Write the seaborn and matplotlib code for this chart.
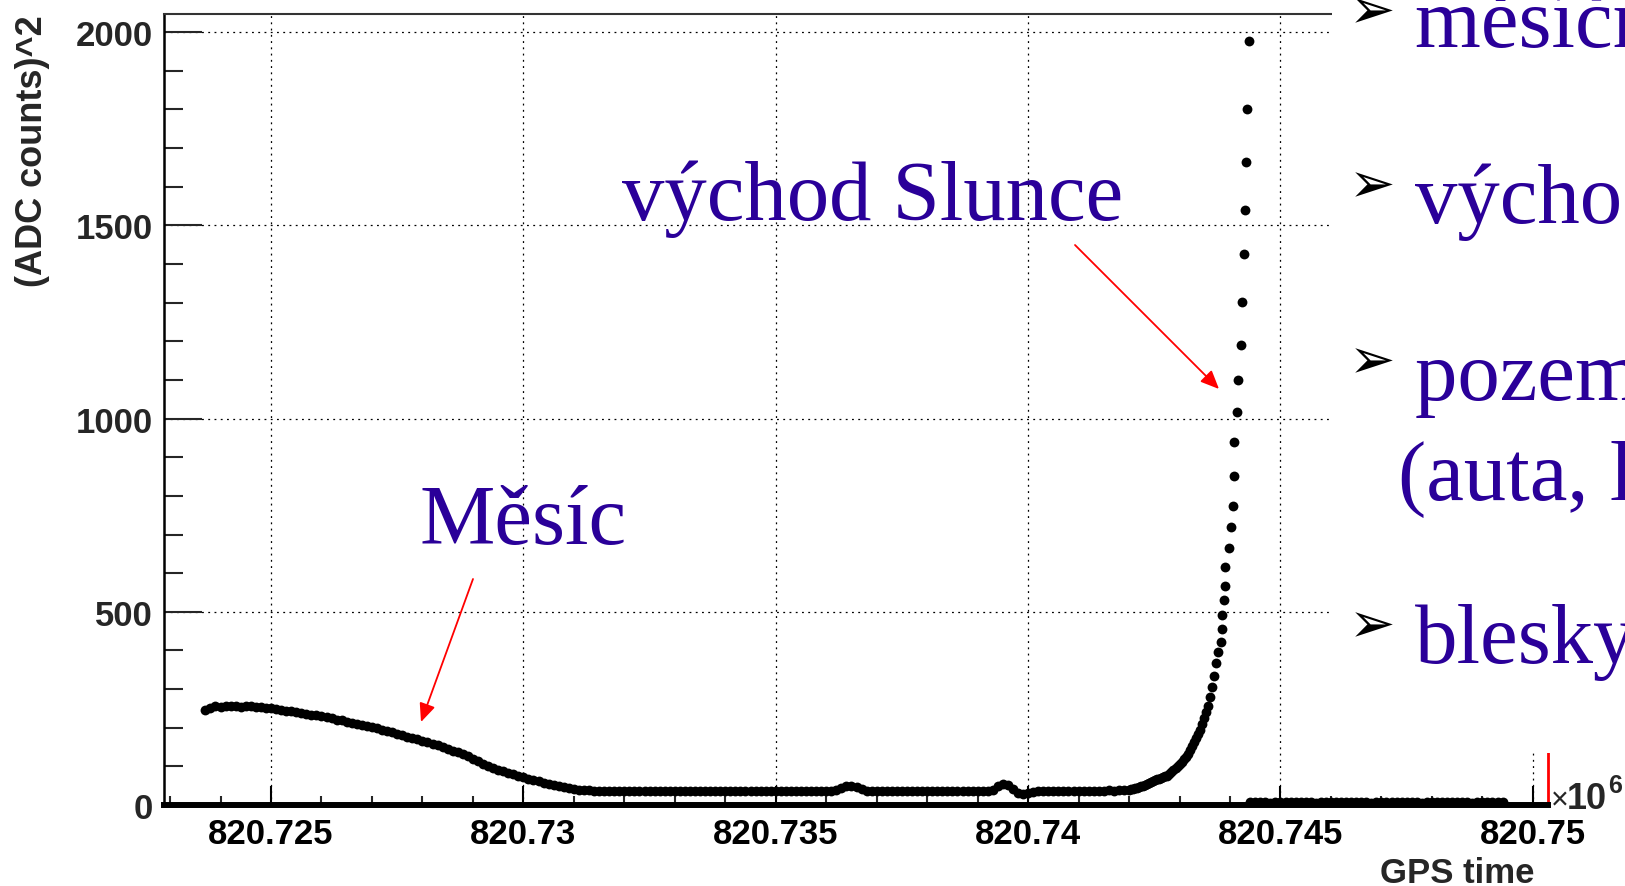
import numpy as np
import pandas as pd
import matplotlib
matplotlib.use("Agg")
import matplotlib.pyplot as plt
from matplotlib.patches import Rectangle
from matplotlib.ticker import MultipleLocator, FixedLocator
import seaborn as sns

# ---------------- data: GPS time [x1e6 s] vs. pixel signal [(ADC counts)^2] ----------------
# slow part of the night (Moon setting), sampled every 100 s
slow_t0 = 820.7237
slow_dt = 0.0001
slow_adc = [
    246, 252, 255, 254, 257, 255, 256, 254, 257, 255,
    254, 253, 251, 250, 248, 246, 244, 242, 240, 238,
    236, 234, 232, 230, 227, 225, 221, 219, 216, 213,
    210, 207, 204, 201, 198, 195, 192, 189, 185, 181,
    177, 173, 170, 166, 162, 158, 154, 150, 146, 141,
    137, 132, 126, 120, 114, 107, 101, 96, 91, 87,
    83, 79, 75, 72, 68, 64, 61, 58, 55, 52,
    49, 46, 44, 42, 40, 39, 38, 37, 37, 36,
    36, 37, 35, 36, 37, 36, 35, 37, 36, 36,
    37, 35, 36, 36, 37, 35, 36, 37, 36, 35,
    36, 37, 36, 35, 36, 37, 36, 36, 35, 37,
    36, 36, 37, 35, 36, 36, 37, 36, 35, 36,
    37, 36, 36, 35, 37, 38, 44, 48, 49, 47,
    41, 37, 36, 36, 35, 37, 36, 36, 37, 35,
    36, 36, 37, 36, 35, 36, 37, 36, 36, 35,
    37, 36, 36, 35, 37, 36, 40, 48, 55, 52,
    42, 32, 29, 30, 33, 36, 37, 36, 36, 37,
    36, 37, 36, 37, 36, 37, 37, 36, 37, 38,
    37, 38, 39,
]

# dawn: finer sampling while the sky brightens
rise_t0 = 820.74200
rise_dt = 0.00004
rise_adc = [
    40, 41, 42, 43, 45, 46, 48, 50, 52, 55,
    57, 60, 62, 64, 66, 68, 70, 72, 74, 76,
    80, 85, 90, 95, 100, 106, 112, 118, 125, 133,
    142, 153, 163, 173, 184, 195, 210, 225, 240, 256,
    280, 305, 335, 368, 396,
]

# last readings before the shutter closes
peak_time = [820.74383, 820.74384, 820.74385, 820.74389, 820.74390,
             820.74391, 820.74398, 820.74401, 820.74405, 820.74407,
             820.74408, 820.74414, 820.74415, 820.74421, 820.74423,
             820.74428, 820.74430, 820.74432, 820.74433, 820.74438]
peak_adc = [422, 455, 492, 530, 567, 617, 665, 719, 774, 851,
            940, 1016, 1101, 1190, 1301, 1426, 1540, 1665, 1801, 1978]

# closed shutter, daytime
tail_t0 = 820.7444
tail_dt = 0.0001
tail_adc = [
    8, 7, 9, 8, 6, 8, 9, 7, 8, 8,
    7, 9, 8, 6, 8, 7, 9, 8, 8, 7,
    8, 9, 7, 8, 6, 8, 9, 8, 7, 8,
    9, 7, 8, 8, 6, 9, 8, 7, 8, 9,
    7, 8, 8, 9, 6, 8, 7, 9, 8, 7, 8,
]

x_ticks = [820.725, 820.73, 820.735, 820.74, 820.745, 820.75]
x_tick_labels = ["820.725", "820.73", "820.735", "820.74", "820.745", "820.75"]
y_ticks = [0, 500, 1000, 1500, 2000]
y_tick_labels = ["0", "500", "1000", "1500", "2000"]

x_title = "GPS time"
y_title = "(ADC counts)^2"
moon_label = "Měsíc"
sun_label = "východ Slunce"
bullet_lines = ["měsíční světlo", "východ Slunce", "pozemní zdroje", "blesky"]
bullet_cont = "(auta, letadla)"

# ---------------- assemble ----------------
def sampled(t0, dt, values):
    return t0 + dt * np.arange(len(values))

df = pd.DataFrame({
    "t": np.concatenate([sampled(slow_t0, slow_dt, slow_adc),
                         sampled(rise_t0, rise_dt, rise_adc),
                         np.array(peak_time),
                         sampled(tail_t0, tail_dt, tail_adc)]),
    "adc": np.concatenate([slow_adc, rise_adc, peak_adc, tail_adc]).astype(float),
})

sns.set_style("white")
plt.rcParams["font.family"] = ["Liberation Sans", "DejaVu Sans"]

W, H = 1625, 887
fig = plt.figure(figsize=(W / 100, H / 100), dpi=100, facecolor="white")


def fx(px):
    return px / W


def fy(py):
    return 1 - py / H


ax = fig.add_axes([fx(164), fy(806), fx(1548) - fx(164), fy(15) - fy(806)])
ax.set_facecolor("white")

sns.scatterplot(data=df, x="t", y="adc", ax=ax, color="black", marker="o",
                s=50, linewidth=0, legend=False, zorder=3)

ax.set_xlim(820.72288, 820.7503)
ax.set_ylim(0, 2047)

ax.xaxis.set_major_locator(FixedLocator(x_ticks))
ax.xaxis.set_minor_locator(MultipleLocator(0.001))
ax.yaxis.set_major_locator(FixedLocator(y_ticks))
ax.yaxis.set_minor_locator(MultipleLocator(100))
ax.set_xticklabels(x_tick_labels, fontsize=25, fontweight="bold")
ax.set_yticklabels(y_tick_labels, fontsize=25, fontweight="bold")

ax.tick_params(axis="x", which="major", direction="in", length=14, width=1.5,
               pad=9, bottom=True, top=False, colors="black")
ax.tick_params(axis="x", which="minor", direction="in", length=6.5, width=1.5,
               bottom=True, top=False)
ax.tick_params(axis="y", which="major", direction="in", length=27, width=1.5,
               pad=8, left=True, right=False)
ax.tick_params(axis="y", which="minor", direction="in", length=14, width=1.5,
               left=True, right=False)

ax.grid(which="major", color="black", linestyle=(0, (1.5, 3.5)), linewidth=0.9)
ax.set_axisbelow(True)

ax.spines["left"].set_linewidth(1.8)
ax.spines["left"].set_color("black")
ax.spines["bottom"].set_linewidth(4.3)
ax.spines["bottom"].set_color("black")
ax.spines["top"].set_linewidth(1.5)
ax.spines["top"].set_color("#333333")
ax.spines["right"].set_linewidth(2.0)
ax.spines["right"].set_color("red")

ax.set_xlabel(x_title, fontsize=25, fontweight="bold", ha="right", va="top")
ax.xaxis.set_label_coords((1535 - 164) / (1548 - 164), (806 - 857) / (806 - 15))
ax.set_ylabel(y_title, fontsize=26, fontweight="bold", ha="right", va="center")
ax.yaxis.set_label_coords((33 - 164) / (1548 - 164), 1.0)

# exponent of the time axis
fig.text(fx(1551), fy(809), "×", fontsize=22, va="baseline", ha="left")
fig.text(fx(1567), fy(809), "10", fontsize=26, fontweight="bold", va="baseline", ha="left")
fig.text(fx(1608), fy(793), "6", fontsize=18, fontweight="bold", va="baseline", ha="left")

# annotations inside the plot
txt_color = "#2a0099"
serif = "Liberation Serif"
fig.text(fx(622), fy(220), sun_label, fontsize=61, family=serif, color=txt_color,
         va="baseline", ha="left", zorder=6)
fig.text(fx(420), fy(544), moon_label, fontsize=61, family=serif, color=txt_color,
         va="baseline", ha="left", zorder=6)

arrow_kw = dict(arrowstyle="-|>,head_length=0.8,head_width=0.35", color="red",
                lw=1.3, shrinkA=0, shrinkB=0, mutation_scale=14)
ax.annotate("", xy=(fx(421), fy(723)), xytext=(fx(473), fy(580)),
            xycoords="figure fraction", textcoords="figure fraction",
            arrowprops=arrow_kw, annotation_clip=False, zorder=6)
ax.annotate("", xy=(fx(1219), fy(390)), xytext=(fx(1075), fy(246)),
            xycoords="figure fraction", textcoords="figure fraction",
            arrowprops=arrow_kw, annotation_clip=False, zorder=6)

# bullet list panel on the right
fig.add_artist(Rectangle((fx(1332), fy(754)), 1 - fx(1332), 1 - fy(754),
                         transform=fig.transFigure, facecolor="white",
                         edgecolor="none", zorder=5))

bullet_y = [13, 187, 363, 627]
line_base = [47, 223, 400, 663]
for by, ly, line in zip(bullet_y, line_base, bullet_lines):
    fig.text(fx(1372), fy(by), "➢", fontsize=40, family="DejaVu Sans",
             color="black", ha="center", va="center", zorder=6)
    fig.text(fx(1415), fy(ly), line, fontsize=61, family=serif, color=txt_color,
             ha="left", va="baseline", zorder=6)
fig.text(fx(1398), fy(500), bullet_cont, fontsize=61, family=serif, color=txt_color,
         ha="left", va="baseline", zorder=6)

fig.savefig("out.png", dpi=100, facecolor="white")
